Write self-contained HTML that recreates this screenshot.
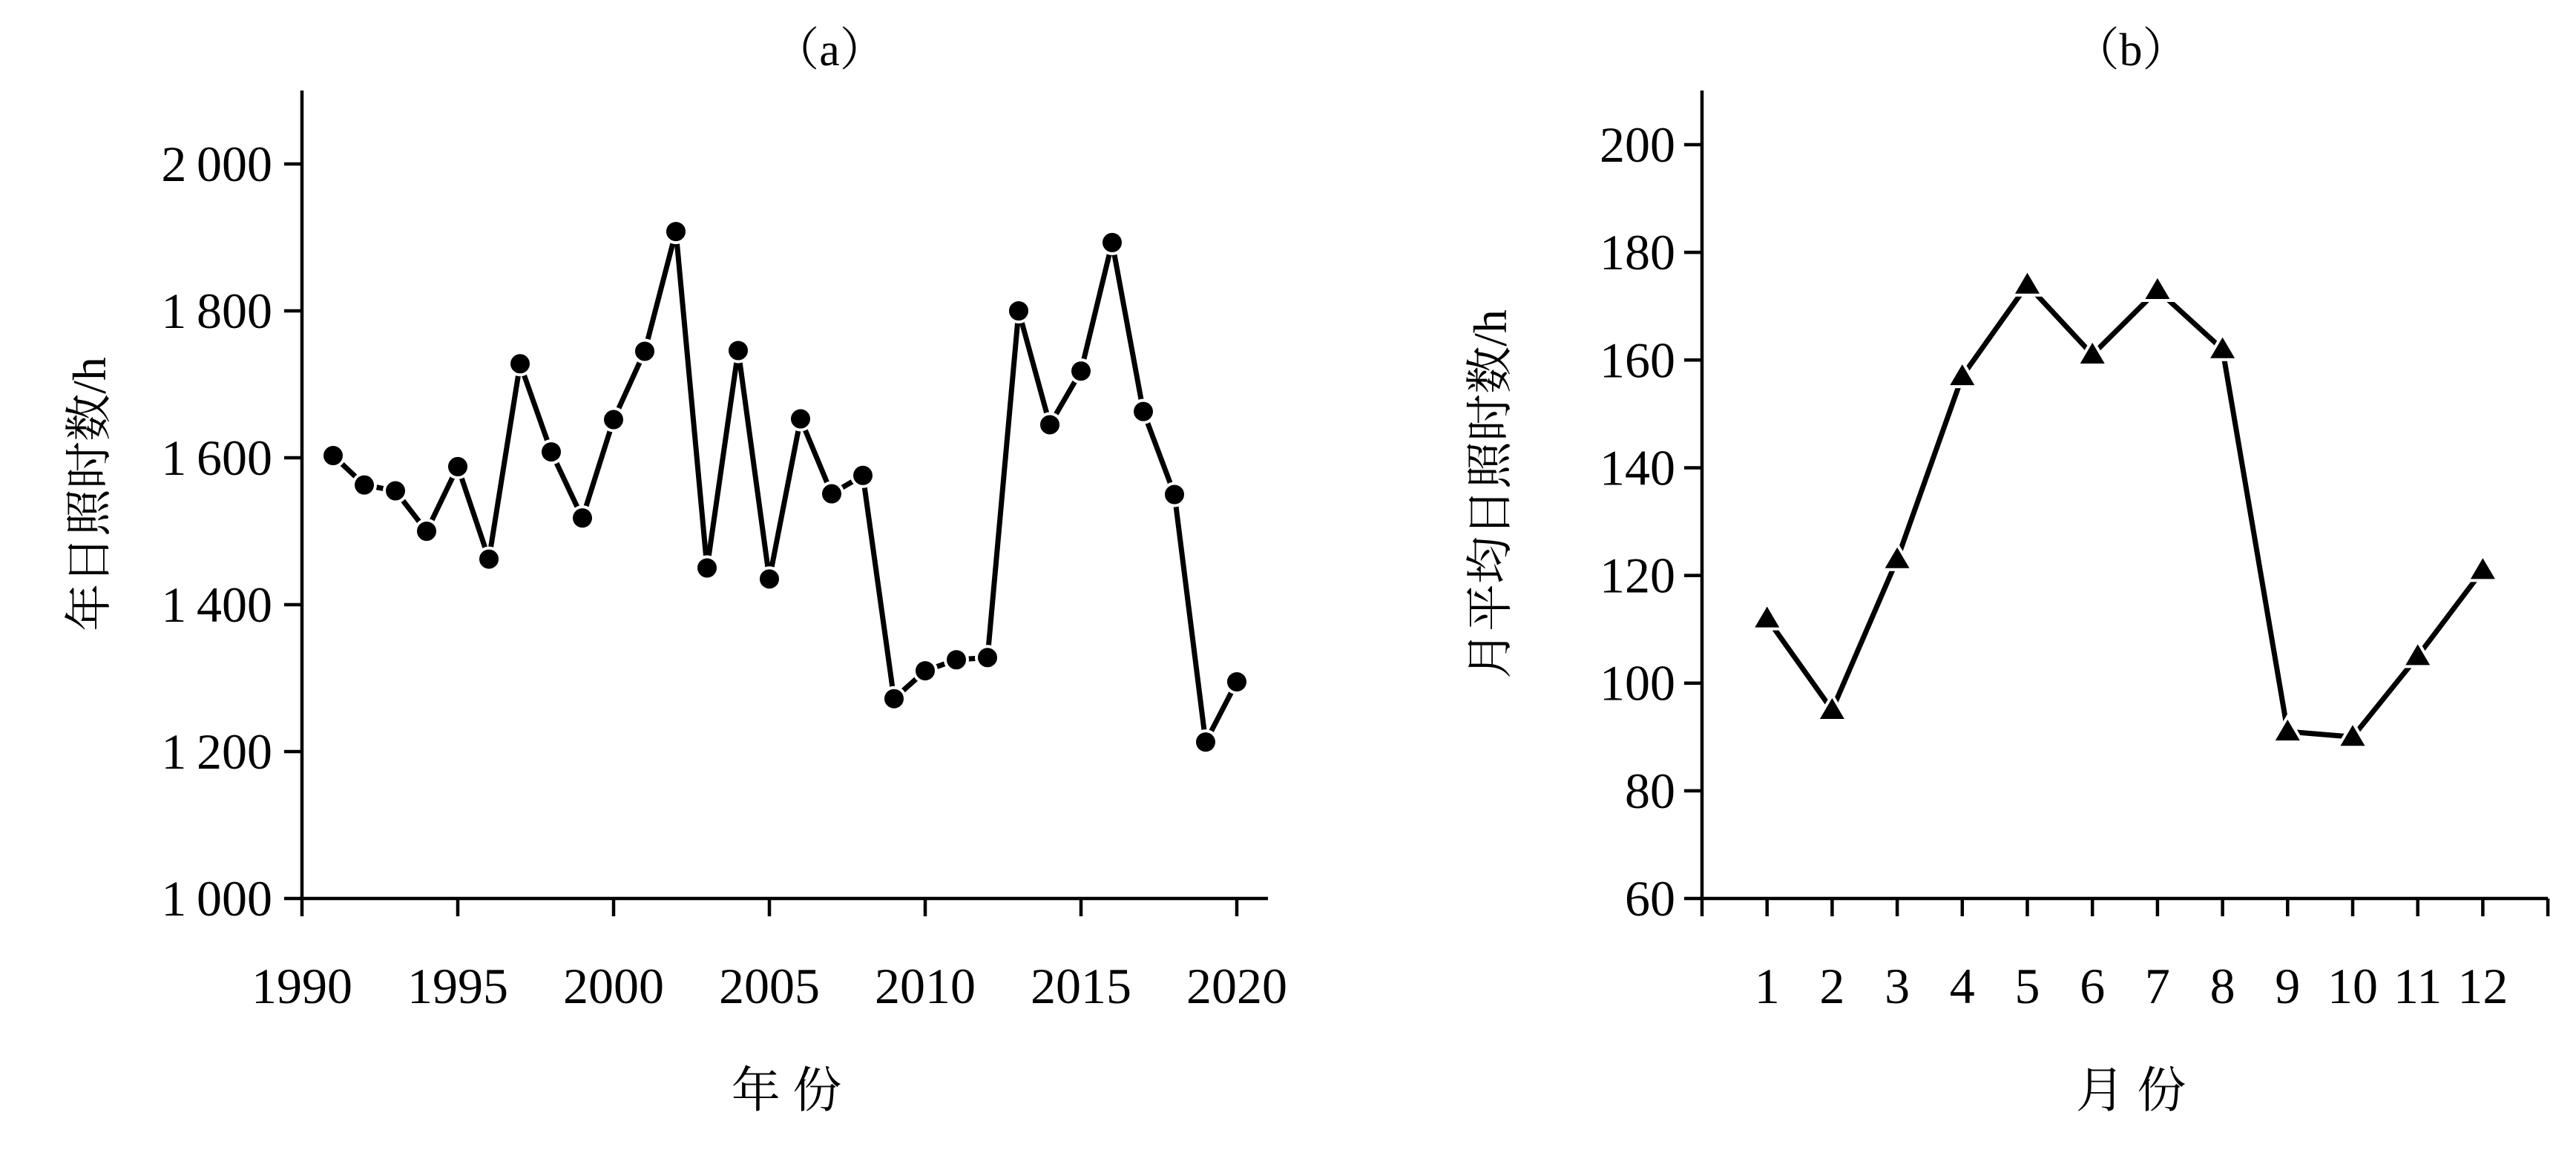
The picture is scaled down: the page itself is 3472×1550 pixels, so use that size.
<!DOCTYPE html>
<html><head><meta charset="utf-8"><style>
html,body{margin:0;padding:0;background:#fff}
svg{display:block}
text{font-family:"Liberation Serif","Noto Serif CJK SC",serif;fill:#000}
</style></head><body>
<svg id="s" width="3472" height="1550" xmlns="http://www.w3.org/2000/svg"></svg>
<script>
const s=document.getElementById('s');let h='';
function L(x1,y1,x2,y2,w){h+=`<line x1="${x1}" y1="${y1}" x2="${x2}" y2="${y2}" stroke="#000" stroke-width="${w||4.5}"/>`;}
function T(x,y,t,sz,anc,extra){h+=`<text x="${x}" y="${y}" font-size="${sz}" text-anchor="${anc||'middle'}" ${extra||''}>${t}</text>`;}
// Panel a
const ax0=407,ay0=1211,atop=122;
const X=yr=>ax0+(yr-1990)*42, Y=v=>ay0-(v-1000)*0.99;
L(ax0,atop,ax0,ay0);L(ax0,ay0,1709,ay0);
for(let v=1000;v<=2000;v+=200){L(ax0-24,Y(v),ax0,Y(v));T(ax0-40,Y(v)+23,(v/1000|0)+'\u2009'+String(v%1000).padStart(3,'0'),68,'end');}
for(let yr=1990;yr<=2020;yr+=5){L(X(yr),ay0,X(yr),ay0+24);T(X(yr),1352,yr,68);}
T(1118,88,'（a）',62);
T(1060,1492,'年 份',66);
T(142,666,'年日照时数/h',64,'middle','transform="rotate(-90 142 666)"');
const da=[1603,1563,1555,1500,1588,1462,1728,1608,1518,1652,1745,1908,1450,1746,1435,1653,1551,1576,1272,1310,1325,1328,1800,1645,1718,1893,1663,1550,1213,1295];
let p=da.map((v,i)=>X(1991+i)+','+Y(v)).join(' ');
h+=`<polyline points="${p}" fill="none" stroke="#000" stroke-width="7" stroke-linejoin="round"/>`;
da.forEach((v,i)=>{h+=`<circle cx="${X(1991+i)}" cy="${Y(v)}" r="15" fill="#000" stroke="#fff" stroke-width="4"/>`;});
// Panel b
const bx0=2294,by0=1211;
const BX=m=>bx0+m*87.7, BY=v=>by0-(v-60)*7.257;
L(bx0,atop,bx0,by0);L(bx0,by0,BX(13),by0);
for(let v=60;v<=200;v+=20){L(bx0-24,BY(v),bx0,BY(v));T(bx0-36,BY(v)+23,v,68,'end');}
for(let m=0;m<=13;m++){L(BX(m),by0,BX(m),by0+24);if(m>=1&&m<=12)T(BX(m),1352,m,68);}
T(2872,88,'（b）',62);
T(2872,1492,'月 份',66);
T(2030,666,'月平均日照时数/h',64,'middle','transform="rotate(-90 2030 666)"');
const db=[112,95,123,157,174,161,173,162,91,90,105,121];
p=db.map((v,i)=>BX(i+1)+','+BY(v)).join(' ');
h+=`<polyline points="${p}" fill="none" stroke="#000" stroke-width="7" stroke-linejoin="round"/>`;
db.forEach((v,i)=>{const x=BX(i+1),y=BY(v);h+=`<polygon points="${x},${y-20} ${x-20},${y+14} ${x+20},${y+14}" fill="#000" stroke="#fff" stroke-width="4"/>`;});
s.innerHTML=h;
</script>
</body></html>
